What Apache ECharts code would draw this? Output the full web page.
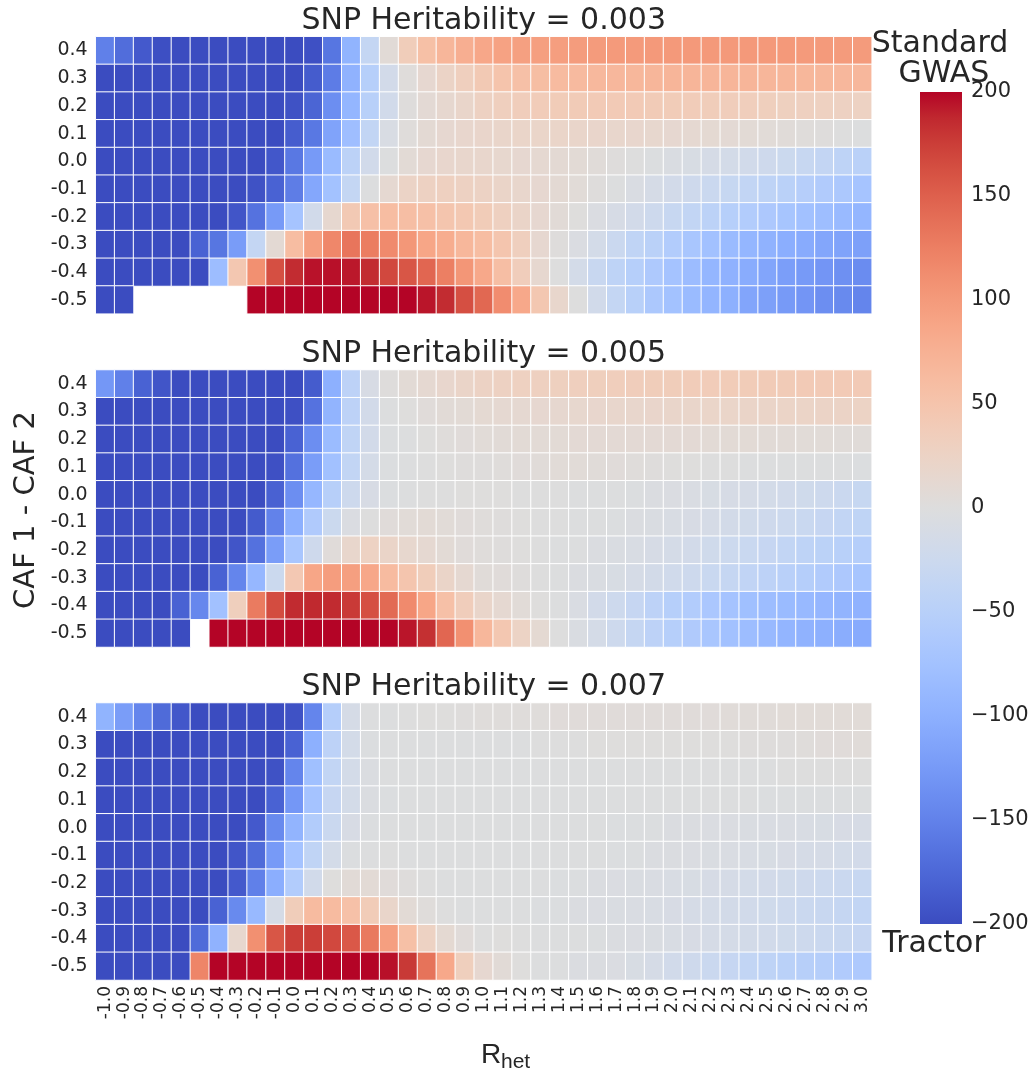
<!DOCTYPE html>
<html>
<head>
<meta charset="utf-8">
<script src="https://cdn.jsdelivr.net/npm/echarts@6.0.0/dist/echarts.min.js"></script>
<style>
  html, body { margin: 0; padding: 0; background: #ffffff; }
  #chart { width: 1033px; height: 1073px; }
</style>
</head>
<body>
<div id="chart"></div>
<script>
// R_het values along the x axis
const rHet = ['-1.0','-0.9','-0.8','-0.7','-0.6','-0.5','-0.4','-0.3','-0.2','-0.1',
  '0.0','0.1','0.2','0.3','0.4','0.5','0.6','0.7','0.8','0.9',
  '1.0','1.1','1.2','1.3','1.4','1.5','1.6','1.7','1.8','1.9',
  '2.0','2.1','2.2','2.3','2.4','2.5','2.6','2.7','2.8','2.9','3.0'];

// CAF 1 - CAF 2, top row first
const cafDiff = ['0.4','0.3','0.2','0.1','0.0','-0.1','-0.2','-0.3','-0.4','-0.5'];

const heritability = ['0.003', '0.005', '0.007'];

// Standard GWAS minus Tractor, one row per CAF difference (null = no result)
const h003 = [
  [-152,-170,-188,-197,-200,-200,-200,-200,-200,-200,-200,-196,-162,-95,-35,7,36,56,69,78,86,
   92,94,95,96,98,99,100,100,101,101,101,101,101,101,101,101,100,100,99,99],
  [-200,-200,-200,-200,-200,-200,-200,-200,-200,-200,-200,-186,-156,-97,-52,-17,3,14,24,32,42,
   50,55,59,62,64,66,67,68,69,70,70,70,70,70,69,69,68,68,67,67],
  [-200,-200,-200,-200,-200,-200,-200,-200,-200,-200,-195,-178,-138,-92,-50,-18,2,9,15,20,28,
   32,35,37,38,39,40,40,40,39,38,37,36,35,34,33,31,30,29,28,27],
  [-200,-200,-200,-200,-200,-200,-200,-200,-200,-200,-185,-160,-115,-80,-38,-8,3,10,14,17,19,
   20,21,21,21,20,19,18,17,16,14,12,11,9,8,6,5,3,2,0,-1],
  [-200,-200,-200,-200,-200,-200,-200,-200,-200,-190,-160,-125,-85,-45,-18,-2,8,14,17,18,18,
   16,14,12,10,8,5,2,0,-3,-6,-9,-12,-15,-18,-22,-26,-31,-36,-42,-48],
  [-200,-200,-200,-200,-200,-200,-200,-200,-195,-180,-155,-110,-75,-35,-2,12,24,28,30,28,26,
   22,18,14,10,6,2,-2,-7,-12,-17,-22,-27,-32,-37,-42,-47,-53,-59,-65,-72],
  [-200,-200,-200,-200,-200,-200,-200,-192,-165,-125,-72,-18,15,42,55,60,58,55,48,44,38,
   30,22,14,7,1,-5,-11,-17,-24,-31,-38,-45,-52,-58,-64,-70,-76,-81,-86,-92],
  [-200,-200,-200,-200,-200,-180,-162,-123,-35,10,60,95,118,133,127,115,103,88,80,68,60,
   48,32,14,2,-5,-15,-28,-40,-48,-58,-68,-76,-85,-92,-97,-102,-106,-111,-115,-118],
  [-200,-200,-200,-200,-200,-200,-82,45,110,163,185,195,196,193,185,168,158,145,125,104,85,
   58,35,15,0,-15,-30,-42,-52,-62,-73,-83,-92,-98,-105,-113,-120,-125,-130,-135,-140],
  [-200,-200,null,null,null,null,null,null,200,200,200,200,200,200,200,200,200,194,185,163,144,
   113,85,45,18,0,-18,-35,-50,-65,-75,-85,-93,-100,-112,-118,-125,-130,-137,-142,-147]
];

const h005 = [
  [-128,-152,-180,-192,-200,-200,-200,-200,-200,-200,-200,-186,-100,-44,-10,2,8,12,17,22,26,
   28,29,30,31,32,33,34,35,36,36,37,37,38,38,39,39,40,40,40,40],
  [-200,-200,-200,-200,-200,-200,-200,-200,-200,-200,-196,-165,-94,-44,-17,-2,1,4,7,8,11,
   12,13,14,15,16,17,18,18,19,20,20,21,21,22,22,23,23,24,24,25],
  [-200,-200,-200,-200,-200,-200,-200,-200,-200,-200,-180,-138,-84,-40,-17,-3,-1,1,3,4,6,
   7,8,8,8,9,9,9,9,9,9,9,8,8,8,7,7,6,6,5,5],
  [-200,-200,-200,-200,-200,-200,-200,-200,-200,-196,-166,-122,-76,-38,-14,-3,-1,0,1,2,2,
   3,4,5,6,6,5,4,3,2,1,1,0,0,-1,-1,-1,-2,-2,-2,-3],
  [-200,-200,-200,-200,-200,-200,-200,-200,-200,-181,-138,-90,-51,-24,-10,-3,-1,0,0,1,1,
   1,0,0,0,-1,-1,-2,-3,-4,-5,-7,-9,-11,-13,-15,-18,-21,-24,-28,-32],
  [-200,-200,-200,-200,-200,-200,-200,-200,-187,-150,-100,-60,-26,-5,0,4,6,8,6,4,3,
   2,1,0,0,-1,-2,-3,-4,-6,-8,-10,-13,-16,-19,-22,-25,-29,-33,-37,-41],
  [-200,-200,-200,-200,-200,-200,-200,-192,-166,-122,-68,-22,4,18,27,22,16,13,8,4,3,
   2,1,0,-1,-2,-4,-6,-8,-11,-14,-17,-21,-25,-29,-33,-38,-42,-46,-50,-54],
  [-200,-200,-200,-200,-200,-200,-180,-147,-90,-26,43,88,97,95,86,62,48,36,22,12,5,
   4,2,0,-2,-4,-6,-9,-12,-16,-20,-24,-29,-34,-39,-44,-49,-54,-59,-64,-70],
  [-200,-200,-200,-200,-180,-145,-76,33,128,165,186,187,186,177,163,142,115,88,55,35,20,
   13,6,1,-2,-7,-17,-24,-33,-44,-52,-58,-66,-73,-78,-82,-85,-88,-91,-94,-97],
  [-200,-200,-200,-200,-200,null,200,200,200,200,200,200,200,200,200,200,194,183,145,110,68,
   45,25,11,0,-6,-14,-24,-34,-44,-52,-60,-68,-76,-82,-87,-93,-97,-100,-103,-106]
];

const h007 = [
  [-95,-122,-147,-172,-190,-200,-200,-200,-200,-200,-195,-147,-54,-12,-1,-1,0,1,1,2,3,
   3,3,3,4,4,4,4,4,4,4,4,4,5,5,5,6,6,6,6,6],
  [-200,-200,-200,-200,-200,-200,-200,-200,-200,-200,-180,-100,-44,-15,-3,-1,-1,-1,-1,-1,-1,
   -1,-1,0,0,0,1,1,1,1,1,1,1,1,2,2,2,3,4,4,5],
  [-200,-200,-200,-200,-200,-200,-200,-200,-200,-195,-147,-78,-38,-15,-4,-2,-1,-1,-1,-1,-1,
   -1,-1,-1,-1,-1,-1,-1,-1,-1,-1,-1,-1,-1,-1,-1,0,0,0,0,0],
  [-200,-200,-200,-200,-200,-200,-200,-200,-200,-180,-128,-73,-33,-15,-4,-3,-2,-2,-2,-2,-2,
   -2,-2,-2,-2,-2,-2,-2,-2,-2,-2,-2,-2,-2,-2,-3,-3,-3,-3,-3,-3],
  [-200,-200,-200,-200,-200,-200,-200,-200,-188,-142,-94,-57,-27,-10,-3,-2,-2,-2,-2,-2,-2,
   -2,-2,-2,-2,-2,-2,-3,-3,-3,-4,-4,-5,-5,-6,-7,-7,-8,-9,-10,-11],
  [-200,-200,-200,-200,-200,-200,-200,-192,-172,-125,-73,-40,-15,-3,-1,0,-1,-1,-1,-1,-1,
   -1,-1,-1,-2,-2,-2,-3,-3,-4,-4,-5,-6,-7,-8,-9,-10,-12,-13,-15,-17],
  [-200,-200,-200,-200,-200,-200,-200,-188,-152,-102,-58,-18,1,7,8,4,2,0,-1,-1,-1,
   -1,-2,-2,-3,-3,-4,-5,-6,-7,-8,-9,-11,-13,-15,-17,-19,-22,-25,-28,-31],
  [-200,-200,-200,-200,-200,-200,-180,-142,-87,-12,36,62,63,54,38,20,8,3,0,-1,-2,
   -2,-2,-3,-3,-4,-5,-6,-7,-8,-10,-12,-14,-16,-18,-21,-24,-27,-30,-34,-38],
  [-200,-200,-200,-200,-200,-172,-97,16,110,158,175,175,168,156,130,95,56,27,11,4,0,
   1,0,-1,-1,-2,-3,-4,-5,-6,-8,-10,-12,-14,-16,-18,-21,-24,-27,-30,-33],
  [-200,-200,-200,-200,-200,120,200,200,200,200,200,200,200,200,200,196,178,135,85,33,14,
   7,1,-1,-2,-4,-4,-5,-9,-13,-18,-22,-28,-33,-38,-42,-47,-51,-54,-59,-62]
];

const panels = [h003, h005, h007];

// Diverging cool-to-warm palette, 33 evenly spaced stops from -200 to 200
const coolwarm = [
  '#3b4cc0','#445acc','#4d68d7','#5775e1','#6282ea','#6c8ef1','#779af7','#82a5fb',
  '#8db0fe','#98b9ff','#a3c2ff','#aec9fd','#b8d0f9','#c2d5f4','#ccd9ee','#d5dbe6',
  '#dddddd','#e5d8d1','#ecd3c5','#f1ccb9','#f5c4ac','#f7bba0','#f7b194','#f7a687',
  '#f49a7b','#f18d6f','#ec7f63','#e57058','#de604d','#d55042','#cb3e38','#c0282f','#b40426'
];

const TEXT = '#262626';
const FONT = '"DejaVu Sans", sans-serif';

// Panel geometry
const plotLeft = 95.7, plotWidth = 776, plotHeight = 277;
const plotTops = [36.7, 370, 703];
// Colour bar geometry
const cbar = { left: 920, top: 92, width: 42, height: 832 };

const chart = echarts.init(document.getElementById('chart'), null, { renderer: 'canvas' });

const grids = [], xAxes = [], yAxes = [], series = [];
panels.forEach((rows, p) => {
  grids.push({ left: plotLeft, top: plotTops[p], width: plotWidth, height: plotHeight,
               containLabel: false, outerBoundsMode: 'none' });
  xAxes.push({
    type: 'category', gridIndex: p, data: rHet,
    axisLine: { show: false }, axisTick: { show: false }, splitLine: { show: false },
    axisLabel: {
      show: p === 2, interval: 0, rotate: 90, margin: 6, hideOverlap: false,
      fontFamily: FONT, fontSize: 17, color: TEXT
    }
  });
  yAxes.push({
    type: 'category', gridIndex: p, data: cafDiff, inverse: true,
    axisLine: { show: false }, axisTick: { show: false }, splitLine: { show: false },
    axisLabel: { interval: 0, margin: 8, fontFamily: FONT, fontSize: 19, color: TEXT }
  });
  const data = [];
  rows.forEach((row, yi) => {
    row.forEach((v, xi) => { data.push([xi, yi, v === null ? '-' : v]); });
  });
  series.push({
    type: 'heatmap', name: 'SNP Heritability = ' + heritability[p],
    xAxisIndex: p, yAxisIndex: p, data: data,
    itemStyle: { borderColor: '#ffffff', borderWidth: 1 },
    emphasis: { disabled: true }
  });
});

// Colour bar scale
grids.push({ left: cbar.left, top: cbar.top, width: cbar.width, height: cbar.height,
             containLabel: false, outerBoundsMode: 'none' });
xAxes.push({ type: 'value', gridIndex: 3, show: false, min: 0, max: 1 });
yAxes.push({
  type: 'value', gridIndex: 3, position: 'right', min: -200, max: 200, interval: 50,
  axisLine: { show: false }, axisTick: { show: false }, splitLine: { show: false },
  axisLabel: {
    margin: 9, fontFamily: FONT, fontSize: 21, color: TEXT,
    formatter: v => String(v).replace('-', '\u2212')
  }
});

const gradStops = coolwarm.map((c, i) => ({ offset: i / (coolwarm.length - 1), color: c }));

function label(text, x, y, size, opts) {
  return Object.assign({
    type: 'text', x: x, y: y, silent: true,
    style: {
      text: text, font: size + 'px ' + FONT, fill: TEXT,
      align: 'center', verticalAlign: 'middle',
      textAlign: 'center', textVerticalAlign: 'middle'
    }
  }, opts || {});
}

const graphics = [
  {
    type: 'rect', silent: true,
    shape: { x: cbar.left, y: cbar.top, width: cbar.width, height: cbar.height },
    style: { fill: new echarts.graphic.LinearGradient(0, 1, 0, 0, gradStops) }
  },
  label('Standard', 940, 44, 30),
  label('GWAS', 944, 74, 30),
  label('Tractor', 934, 944, 30),
  label('CAF 1 - CAF 2', 26, 510, 29, { rotation: Math.PI / 2 }),
  {
    type: 'text', x: 481, y: 1055, silent: true,
    style: { text: 'R', font: '28px "Liberation Sans", Arial, sans-serif', fill: TEXT,
             align: 'left', verticalAlign: 'middle', textAlign: 'left', textVerticalAlign: 'middle' }
  },
  {
    type: 'text', x: 501, y: 1062, silent: true,
    style: { text: 'het', font: '21px "Liberation Sans", Arial, sans-serif', fill: TEXT,
             align: 'left', verticalAlign: 'middle', textAlign: 'left', textVerticalAlign: 'middle' }
  }
];
heritability.forEach((h, p) => {
  graphics.push(label('SNP Heritability = ' + h, plotLeft + plotWidth / 2, plotTops[p] - 15.5, 30));
});

chart.setOption({
  backgroundColor: '#ffffff',
  animation: false,
  grid: grids,
  xAxis: xAxes,
  yAxis: yAxes,
  visualMap: {
    type: 'continuous', show: false, min: -200, max: 200, dimension: 2,
    seriesIndex: [0, 1, 2], inRange: { color: coolwarm }
  },
  series: series,
  graphic: { elements: graphics }
});
</script>
</body>
</html>
